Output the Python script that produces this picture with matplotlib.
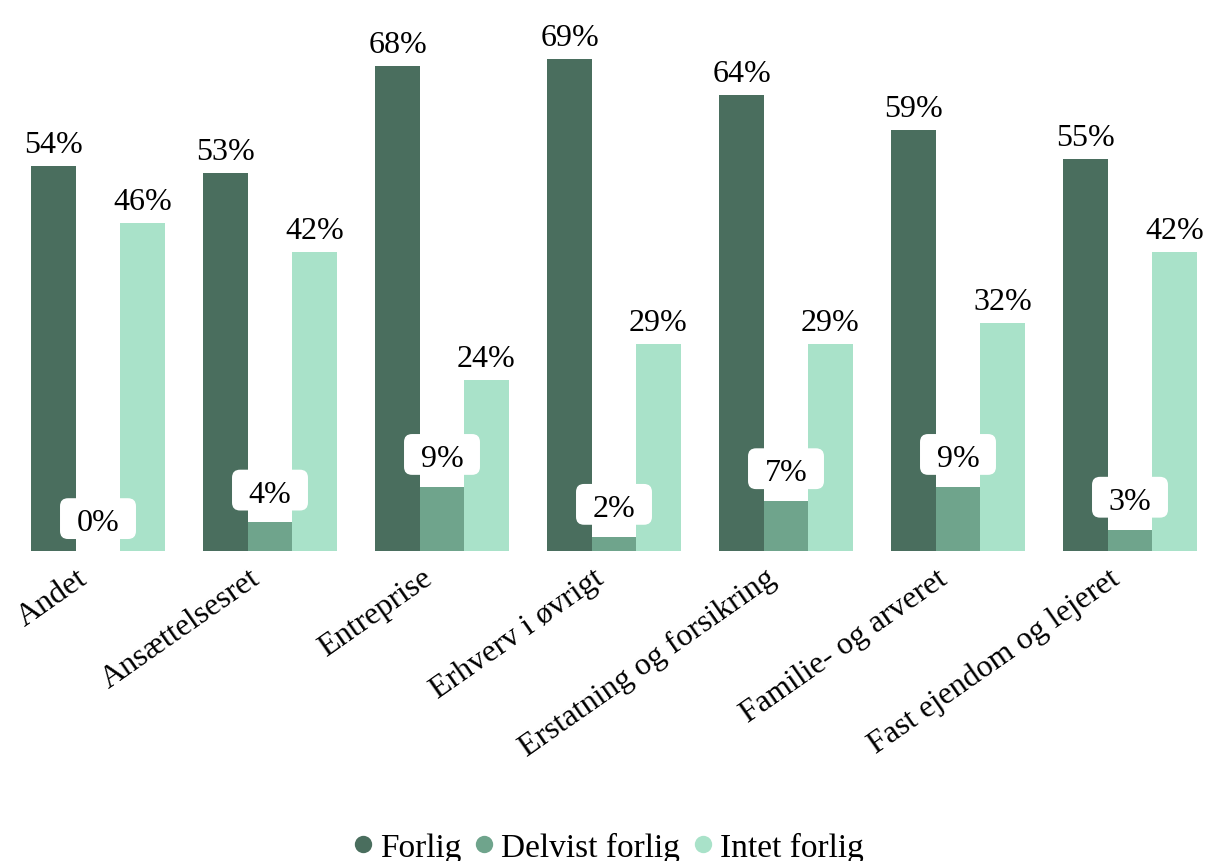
import matplotlib
matplotlib.use('Agg')

import matplotlib.pyplot as plt
import matplotlib.transforms as mtransforms
from matplotlib.patches import BoxStyle
import numpy as np

categories = ["Andet", "Ansættelsesret", "Entreprise", "Erhverv i øvrigt",
              "Erstatning og forsikring", "Familie- og arveret",
              "Fast ejendom og lejeret"]
forlig = [54, 53, 68, 69, 64, 59, 55]
delvist = [0, 4, 9, 2, 7, 9, 3]
intet = [46, 42, 24, 29, 29, 32, 42]

series_names = ["Forlig", "Delvist forlig", "Intet forlig"]
colors = ["#4a6e5e", "#6fa48c", "#a9e2c9"]

plt.rcParams['font.family'] = ['Liberation Serif', 'DejaVu Serif']


def label_box(x0, y0, width, height, mutation_size):
    # white rounded box, more room left/right and on top
    px = 0.52 * mutation_size
    top = 0.31 * mutation_size
    bottom = 0.06 * mutation_size
    return BoxStyle.Round(pad=0, rounding_size=0.25)(
        x0 - px, y0 - bottom, width + 2 * px, height + top + bottom, mutation_size)


fig = plt.figure(figsize=(12.08, 8.62), dpi=100)
ax = fig.add_axes([20.6 / 1208, 310 / 862, 1186.8 / 1208, 552.6 / 862])

x = np.arange(len(categories))
w = 0.2587

for i, (vals, name, col) in enumerate(zip([forlig, delvist, intet], series_names, colors)):
    xs = x + (i - 1) * w
    ax.bar(xs, vals, width=w, color=col, label=name)
    for xi, v in zip(xs, vals):
        if i == 1:
            ax.annotate(f"{v}%", (xi, v), xytext=(0, 10), textcoords='offset points',
                        ha='center', va='bottom', fontsize=23,
                        bbox=dict(boxstyle=label_box, fc='white', ec='none'))
        else:
            ax.annotate(f"{v}%", (xi, v), xytext=(0, 5), textcoords='offset points',
                        ha='center', va='bottom', fontsize=23)

ax.set_xlim(-0.45, 6.45)
ax.set_ylim(0, 77.5)
ax.set_yticks([])
ax.set_xticks(x)
ax.set_xticklabels(categories, rotation=35, ha='right', va='center',
                   rotation_mode='anchor', fontsize=23)
ax.tick_params(axis='x', length=0, pad=0)
shift = mtransforms.ScaledTranslation(-13 / 100, -24 / 100, fig.dpi_scale_trans)
for lbl in ax.get_xticklabels():
    lbl.set_transform(lbl.get_transform() + shift)
for s in ax.spines.values():
    s.set_visible(False)

handles = [plt.Line2D([], [], marker='o', linestyle='none', markersize=12.5,
                      markerfacecolor=c, markeredgecolor='none') for c in colors]
fig.legend(handles, series_names, loc='center', bbox_to_anchor=(0.503, 0.016),
           ncol=3, frameon=False, fontsize=24, handlelength=0.7,
           handletextpad=0.15, columnspacing=0.35)

fig.savefig('out.png', dpi=100)
